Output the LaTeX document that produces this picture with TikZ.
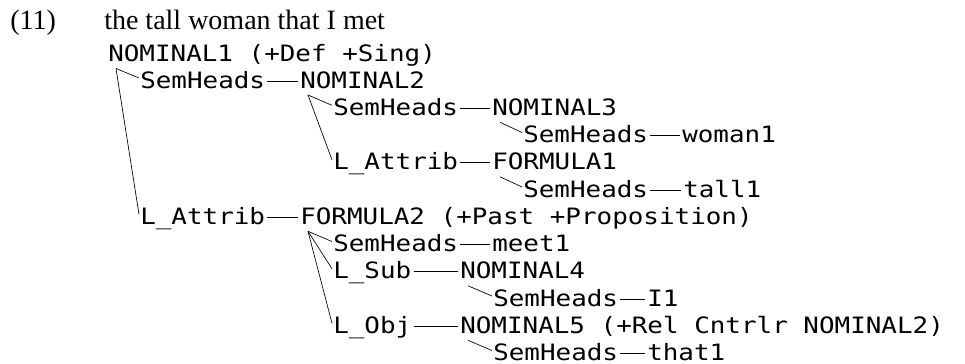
\documentclass[tikz,border=0pt]{standalone}
\usepackage{fontspec}
\setmainfont{Liberation Serif}
\newfontfamily\treefont[FakeStretch=1.15]{DejaVu Sans Mono}
\usepackage{tikz}
\usetikzlibrary{calc}

\tikzset{
	tnode/.style={anchor=base west,inner sep=0pt,font=\treefont\fontsize{16.9}{18}\selectfont},
	ttitle/.style={anchor=base west,inner sep=0pt,font=\fontsize{21}{24}\selectfont},
	tline/.style={line width=0.5pt,black}
}

\begin{document}
\begin{tikzpicture}[x=0.75pt,y=-0.75pt]
		\useasboundingbox (0,0) rectangle (965,364);
		% example number and sentence
		\node[ttitle] (num) at (10,30) {(11)};
		\node[ttitle] (sent) at (104,30) {the tall woman that I met};
		% tree rows
		\node[tnode] (n1) at (108,61.5) {NOMINAL1 (+Def +Sing)};
		\node[tnode] (sh1) at (140,88) {SemHeads};
		\node[tnode] (n2) at (300,88) {NOMINAL2};
		\node[tnode] (sh2) at (333,115.3) {SemHeads};
		\node[tnode] (n3) at (492,115.3) {NOMINAL3};
		\node[tnode] (sh3) at (523,142.5) {SemHeads};
		\node[tnode] (woman) at (682,142.5) {woman1};
		\node[tnode] (la1) at (333,169.8) {L\_Attrib};
		\node[tnode] (f1) at (492,169.8) {FORMULA1};
		\node[tnode] (sh4) at (523,197) {SemHeads};
		\node[tnode] (tall) at (683,197) {tall1};
		\node[tnode] (la2) at (140,224.3) {L\_Attrib};
		\node[tnode] (f2) at (300,224.3) {FORMULA2 (+Past +Proposition)};
		\node[tnode] (sh5) at (333,251.5) {SemHeads};
		\node[tnode] (meet) at (492,251.5) {meet1};
		\node[tnode] (lsub) at (333,278.8) {L\_Sub};
		\node[tnode] (n4) at (460,278.8) {NOMINAL4};
		\node[tnode] (sh6) at (493,306) {SemHeads};
		\node[tnode] (i1) at (647,306) {I1};
		\node[tnode] (lobj) at (333,333.3) {L\_Obj};
		\node[tnode] (n5) at (460,333.3) {NOMINAL5 (+Rel Cntrlr NOMINAL2)};
		\node[tnode] (sh7) at (493,360.5) {SemHeads};
		\node[tnode] (that) at (647,360.5) {that1};
		% slanted branches from a head down to its relations
		\foreach \p/\c in {n1/sh1,n1/la2,n2/sh2,n2/la1,n3/sh3,f1/sh4,f2/sh5,f2/lsub,f2/lobj,n4/sh6,n5/sh7}
			\draw[tline] ($(\p.base west)+(8,7)$) -- ($(\c.base west)+(-1,-10)$);
		% dashes from relation to value
		\foreach \a/\b in {sh1/n2,sh2/n3,sh3/woman,la1/f1,sh4/tall,la2/f2,sh5/meet,lsub/n4,sh6/i1,lobj/n5,sh7/that}
			\draw[tline] ($(\a.base east)+(2,-7)$) -- ($(\b.base west)+(-2,-7)$);
	\end{tikzpicture}
\end{document}
